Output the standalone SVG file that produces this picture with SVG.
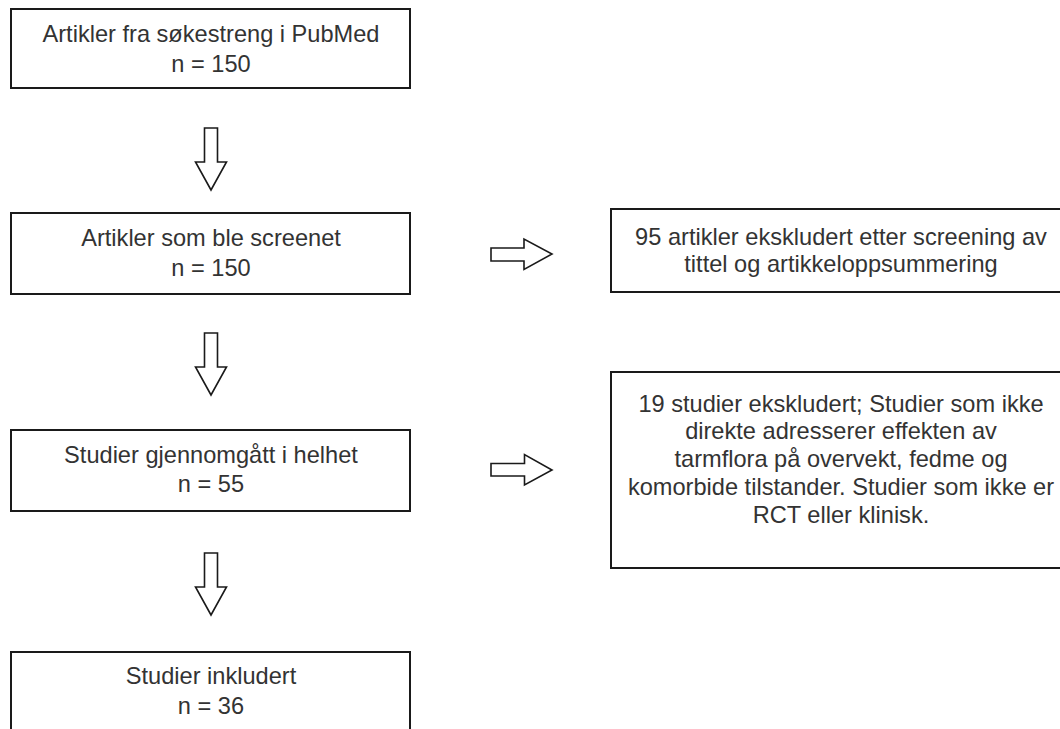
<svg xmlns="http://www.w3.org/2000/svg" width="1060" height="729" viewBox="0 0 1060 729">
<style>
.box{fill:#fff;stroke:#1a1a1a;stroke-width:2}
.t{font-family:"Liberation Sans",Arial,sans-serif;font-size:23.6px;fill:#333;text-anchor:middle}
.arr{fill:#fff;stroke:#1a1a1a;stroke-width:1.6;stroke-linejoin:miter}
</style>
<rect width="1060" height="729" fill="#fff"/>
<g id="n1"><rect class="box" x="11" y="9" width="399" height="79"/>
<text class="t" x="211" y="42">Artikler fra søkestreng i PubMed</text>
<text class="t" x="211" y="72">n = 150</text></g>
<g id="n2"><rect class="box" x="11" y="213" width="399" height="81"/>
<text class="t" x="211" y="246">Artikler som ble screenet</text>
<text class="t" x="211" y="276">n = 150</text></g>
<g id="n3"><rect class="box" x="11" y="430" width="399" height="81"/>
<text class="t" x="211" y="463">Studier gjennomgått i helhet</text>
<text class="t" x="211" y="492">n = 55</text></g>
<g id="n4"><rect class="box" x="11" y="652" width="399" height="100"/>
<text class="t" x="211" y="684">Studier inkludert</text>
<text class="t" x="211" y="714">n = 36</text></g>
<g id="r1"><rect class="box" x="611" y="209" width="462" height="83"/>
<text class="t" x="841" y="245">95 artikler ekskludert etter screening av</text>
<text class="t" x="841" y="272">tittel og artikkeloppsummering</text></g>
<g id="r2"><rect class="box" x="611" y="372" width="462" height="196"/>
<text class="t" x="841" y="411.7">19 studier ekskludert; Studier som ikke</text>
<text class="t" x="841" y="439.4">direkte adresserer effekten av</text>
<text class="t" x="841" y="467.2">tarmflora på overvekt, fedme og</text>
<text class="t" x="841" y="494.9">komorbide tilstander. Studier som ikke er</text>
<text class="t" x="841" y="522.7">RCT eller klinisk.</text></g>
<g id="connectors">
<path class="arr" d="M204.5,128 H217.5 V162 H226.5 L211,190 L195.5,162 H204.5 Z"/>
<path class="arr" d="M204.5,333 H217.5 V367 H226.5 L211,395 L195.5,367 H204.5 Z"/>
<path class="arr" d="M204.5,553 H217.5 V587 H226.5 L211,615 L195.5,587 H204.5 Z"/>
<path class="arr" d="M491,248 H524 V239 L552,254 L524,269.5 V261 H491 Z"/>
<path class="arr" d="M491,463.5 H524.5 V454.5 L552,470 L524.5,485 V476 H491 Z"/>
</g>
</svg>
